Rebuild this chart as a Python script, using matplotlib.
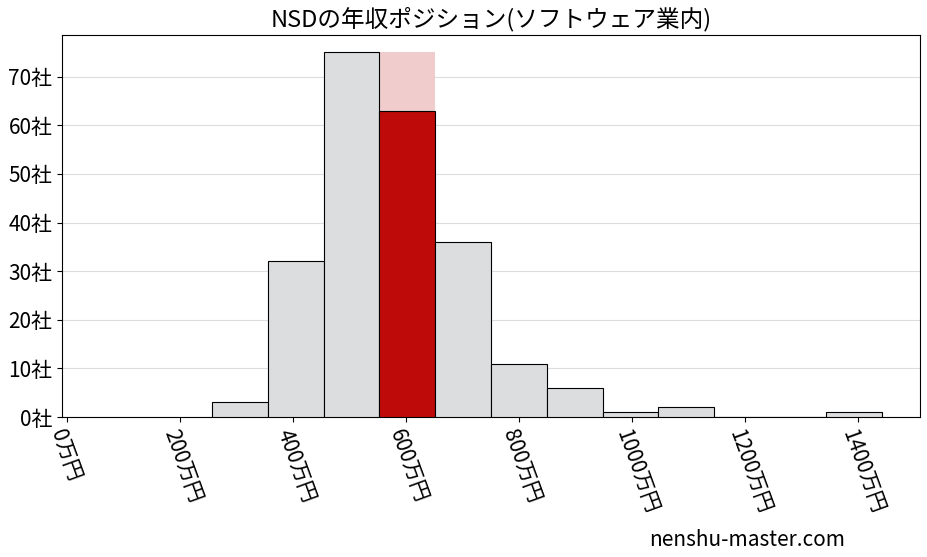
import matplotlib
matplotlib.use("Agg")
import matplotlib.pyplot as plt
import numpy as np

plt.rcParams['font.family'] = ['Noto Sans CJK JP', 'DejaVu Sans']

bin_edges = [257, 356, 454, 553, 652, 750, 849, 948, 1047, 1145, 1244, 1343, 1442]
counts = [3, 32, 75, 63, 36, 11, 6, 1, 2, 0, 0, 1]
highlight_index = 3
highlight_total = 75
xticks = [0, 200, 400, 600, 800, 1000, 1200, 1400]
yticks = [0, 10, 20, 30, 40, 50, 60, 70]

fig = plt.figure(figsize=(9.27, 5.57), dpi=100)
ax = fig.add_axes([62/927, 1-417/557, (920-62)/927, (417-35)/557])
lefts = np.array(bin_edges[:-1])
widths = np.diff(bin_edges)
colors = ['#dcdddf'] * len(counts)
colors[highlight_index] = '#bf0a0a'
ax.bar(lefts[highlight_index], highlight_total, width=widths[highlight_index], align='edge',
       color='#f0cccc', zorder=2)
ax.bar(lefts, counts, width=widths, align='edge', color=colors, edgecolor='black', linewidth=0.8, zorder=3)
ax.set_xlim(-9, 1510)
ax.set_ylim(0, 78.6)
ax.set_xticks(xticks)
ax.set_xticklabels([f'{v}万円' for v in xticks], rotation=-70, ha='left', rotation_mode='anchor', fontsize=15)
ax.set_yticks(yticks)
ax.set_yticklabels([f'{v}社' for v in yticks], fontsize=15)
ax.grid(axis='y', color='#dddddd', linewidth=0.8, zorder=0)
ax.set_axisbelow(True)
ax.set_title('NSDの年収ポジション(ソフトウェア業内)', fontsize=17)
fig.text(0.70, 0.02, 'nenshu-master.com', fontsize=15)
fig.savefig('out.png', dpi=100)
